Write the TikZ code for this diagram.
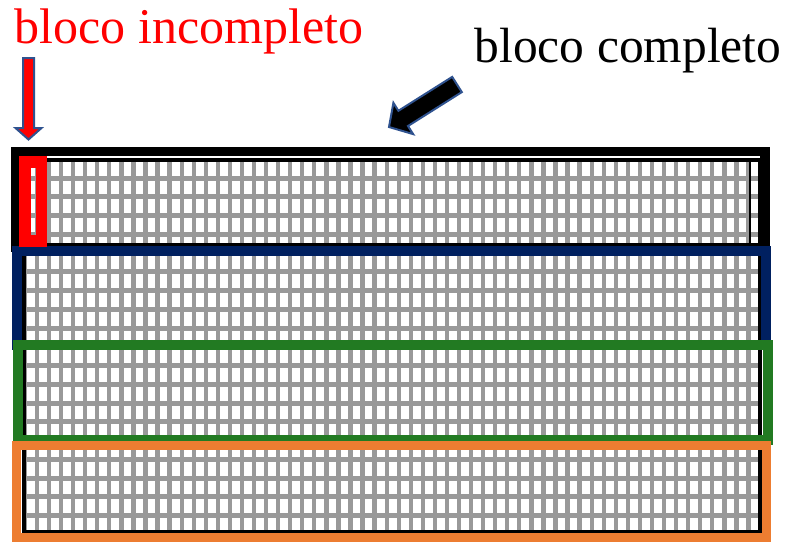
\documentclass[tikz,border=0pt]{standalone}
\usepackage{fontspec}
\setmainfont{Liberation Serif}
\definecolor{gridgray}{RGB}{153,153,153}
\definecolor{navyb}{RGB}{0,32,96}
\definecolor{greenb}{RGB}{34,122,34}
\definecolor{orangeb}{RGB}{237,125,49}
\definecolor{outlineb}{RGB}{47,82,143}
\begin{document}
\begin{tikzpicture}[x=1pt,y=-1pt,
  blockbox/.style={draw=#1, line join=miter},
  blockarrow/.style={draw=outlineb, line width=2, line join=miter, fill=#1},
  label/.style={anchor=base west, inner sep=0pt}]
\fill[white] (0,0) rectangle (789,541);
\useasboundingbox (0,0) rectangle (789,541);

% grid
\begin{scope}
\clip (24,159.5) rectangle (759.5,531.5);
\foreach \k in {-2,...,58} \fill[gridgray] ({49+12.06*\k-2.15},150) rectangle ++(4.3,390);
\foreach \j in {0,...,20} \fill[gridgray] (20,{157+18.75*\j-0.2}) rectangle ++(750,5);
\end{scope}
\draw[black, line width=4] (24,159.5) rectangle (759.5,531.5);
\draw[black, line width=1.5] (750,161) -- (750,243);

% block outlines
\draw[blockbox=black, line width=9.5] (15.5,151.5) rectangle (765,247.5);
\draw[blockbox=navyb, line width=10] (17,250.5) rectangle (766,345);
\draw[blockbox=greenb, line width=10] (17.5,345) rectangle (767.5,440);
\draw[blockbox=orangeb, line width=9] (16.5,445) rectangle (766.5,537);
\draw[blockbox=red, line width=11.5] (24.75,162) rectangle (41.25,241);

% arrows
\draw[blockarrow=red] (23,58) -- (34,58) -- (34,128) -- (41.5,128) -- (28.5,139.5) -- (15.5,128) -- (23,128) -- cycle;
\draw[blockarrow=black] (389,127) -- (393.4,102.8) -- (398.4,110.8) -- (452.2,76.9) -- (461.8,92.1) -- (408,126) -- (413.1,134.1) -- cycle;

% labels
\node[label, text=red, font=\fontsize{50}{60}\selectfont] (incomp) at (14.5,43) {bloco incompleto};
\node[label, font=\fontsize{49.5}{60}\selectfont] (comp) at (474.5,62) {bloco completo};
\end{tikzpicture}
\end{document}
